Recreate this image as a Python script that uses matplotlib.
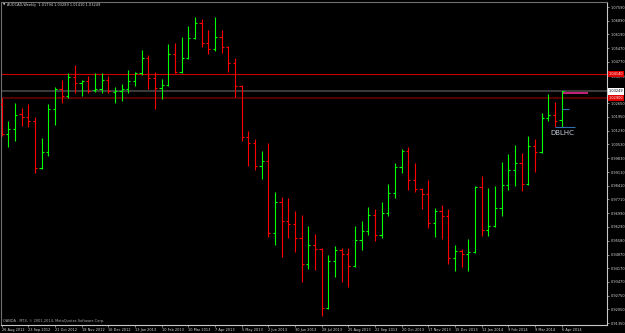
import numpy as np
import matplotlib
matplotlib.use("Agg")
import matplotlib.pyplot as plt

# weekly AUDCAD bars, 26 Aug 2012 .. 6 Apr 2014
opens = [1.02605, 1.01064, 1.01305, 1.02076, 1.01953, 1.01716, 0.99301, 1.00154, 1.02333, 1.03361,
         1.03001, 1.03993, 1.03669, 1.03787, 1.03325, 1.03376, 1.03823, 1.03238, 1.03274, 1.03361,
         1.03787, 1.04183, 1.04954, 1.03926, 1.03412, 1.03582, 1.05175, 1.04265, 1.04954, 1.05982,
         1.06753, 1.05725, 1.05416, 1.06064, 1.05519, 1.04697, 1.03530, 1.00925, 1.00586, 0.99419,
         0.99676, 0.95961, 0.97585, 0.96608, 0.96439, 0.95704, 0.94368, 0.95359, 0.95138, 0.92137,
         0.94553, 0.95102, 0.94897, 0.94280, 0.95616, 0.96079, 0.96901, 0.95873, 0.96989, 0.98016,
         0.99352, 1.00190, 0.98700, 0.98237, 0.97965, 0.96475, 0.97107, 0.96850, 0.94676, 0.95066,
         0.94897, 0.94984, 0.98355, 0.96130, 0.96351, 0.97245, 0.98443, 0.99214, 0.99589, 0.98479,
         1.00447, 1.00123, 1.01871, 1.02040, 1.01794]
highs = [1.02914, 1.01747, 1.02672, 1.02415, 1.02621, 1.01953, 1.00843, 1.02590, 1.03464, 1.03839,
         1.04183, 1.04610, 1.03839, 1.04044, 1.04183, 1.04183, 1.04044, 1.03464, 1.03633, 1.04353,
         1.04265, 1.05380, 1.05124, 1.04265, 1.03890, 1.05689, 1.05725, 1.06033, 1.06614, 1.07092,
         1.06974, 1.06408, 1.07092, 1.06408, 1.05586, 1.04954, 1.03582, 1.01233, 1.00791, 1.00205,
         1.00586, 0.98099, 0.97811, 0.97790, 0.97107, 0.96901, 0.96351, 0.95909, 0.95190, 0.94846,
         0.95308, 0.95221, 0.95221, 0.96351, 0.96608, 0.97328, 0.97209, 0.97554, 0.98494, 0.99558,
         1.00293, 1.00380, 0.99589, 0.98273, 0.98700, 0.97245, 0.97415, 0.97194, 0.95359, 0.95138,
         0.95668, 0.98407, 0.98905, 0.98304, 0.98391, 0.99609, 1.00036, 1.00498, 1.00103, 1.00976,
         1.00791, 1.02158, 1.03104, 1.02724, 1.03289]
lows = [1.00961, 1.00411, 1.00719, 1.01490, 1.01439, 0.99075, 0.99265, 0.99933, 1.01511, 1.02672,
        1.02929, 1.03155, 1.03032, 1.03155, 1.03207, 1.03186, 1.03155, 1.02641, 1.02775, 1.03186,
        1.03530, 1.04096, 1.03361, 1.02333, 1.02862, 1.03530, 1.04183, 1.04183, 1.04903, 1.05930,
        1.05550, 1.05160, 1.05345, 1.05242, 1.04265, 1.02981, 1.00704, 0.99435, 0.99214, 0.98751,
        0.95786, 0.95359, 0.94758, 0.95734, 0.95015, 0.93443, 0.94126, 0.94075, 0.91711, 0.92070,
        0.93699, 0.93443, 0.93217, 0.94244, 0.95102, 0.95873, 0.95565, 0.95734, 0.96865, 0.97790,
        0.99075, 0.98186, 0.98068, 0.97209, 0.96218, 0.95786, 0.95652, 0.94368, 0.94039, 0.94244,
        0.94039, 0.94964, 0.95837, 0.95837, 0.96269, 0.96865, 0.98186, 0.98407, 0.98135, 0.98443,
        0.99096, 1.00087, 1.01747, 1.01439, 1.01410]
closes = [1.01064, 1.01305, 1.02025, 1.01953, 1.01716, 0.99301, 1.00123, 1.02333, 1.03361, 1.03001,
          1.03993, 1.03669, 1.03787, 1.03274, 1.03376, 1.03823, 1.03274, 1.03274, 1.03361, 1.03787,
          1.04183, 1.04954, 1.03926, 1.03412, 1.03582, 1.05175, 1.04265, 1.04954, 1.05982, 1.06753,
          1.05725, 1.05416, 1.06064, 1.05519, 1.04697, 1.03530, 1.00925, 1.00586, 0.99419, 0.99676,
          0.95961, 0.97585, 0.96608, 0.96439, 0.95704, 0.94368, 0.95359, 0.95138, 0.92137, 0.94553,
          0.95102, 0.94897, 0.94280, 0.95616, 0.96079, 0.96901, 0.95873, 0.96989, 0.98016, 0.99352,
          1.00190, 0.98700, 0.98237, 0.97965, 0.96475, 0.97107, 0.96850, 0.94676, 0.95066, 0.94897,
          0.94984, 0.98355, 0.96130, 0.96351, 0.97245, 0.98443, 0.99214, 0.99589, 0.98479, 1.00447,
          1.00123, 1.01871, 1.02040, 1.01732, 1.03249]

date_labels = ["26 Aug 2012", "23 Sep 2012", "21 Oct 2012", "18 Nov 2012", "16 Dec 2012",
               "13 Jan 2013", "10 Feb 2013", "10 Mar 2013", "7 Apr 2013", "5 May 2013",
               "2 Jun 2013", "30 Jun 2013", "28 Jul 2013", "25 Aug 2013", "22 Sep 2013",
               "20 Oct 2013", "17 Nov 2013", "15 Dec 2013", "12 Jan 2014", "9 Feb 2014",
               "9 Mar 2014", "6 Apr 2014"]
# 1.03350 sits under the bid box in the reference, so it is left out
price_ticks = [0.91350, 0.92050, 0.92750, 0.93470, 0.94170, 0.94870, 0.95580, 0.96290,
               0.96990, 0.97710, 0.98410, 0.99110, 0.99830, 1.00530, 1.01230, 1.01950,
               1.02650, 1.04070, 1.04770, 1.05470, 1.06190, 1.06890, 1.07590]

resist = 1.04140
bid = 1.03249
support = 1.02900

UP = "#00FF00"
DOWN = "#FF0000"
FG = "#D8D8D8"
FS = 2.5

fig = plt.figure(figsize=(6.25, 3.33), dpi=100, facecolor="black")
ax = fig.add_axes([0.5 / 625, 8 / 333, 606.5 / 625, 323 / 333])
ax.set_facecolor("black")

# level lines
ax.axhline(resist, color="#C80000", lw=0.8, zorder=1)
ax.axhline(bid, color="#3C3C3C", lw=1.4, zorder=1)
ax.axhline(support, color="#560000", lw=1.4, zorder=1)

o = np.array(opens)
h = np.array(highs)
l = np.array(lows)
c = np.array(closes)
idx = np.arange(len(o))
cols = [UP if cc >= oo else DOWN for oo, cc in zip(o, c)]

ax.vlines(idx, l, h, colors=cols, lw=0.8, zorder=3)
ax.hlines(o, idx - 0.32, idx, colors=cols, lw=0.8, zorder=3)
ax.hlines(c, idx, idx + 0.32, colors=cols, lw=0.8, zorder=3)

# objects around the last bar
last = idx[-1]
ax.hlines(1.0318, last + 0.15, last + 4.0, color="#E8288C", lw=1.2, zorder=4)
ax.hlines(1.0235, last, last + 1.05, color="#2F6FAF", lw=0.8, zorder=4)
ax.hlines(1.0142, last - 1.05, last + 1.95, color="#2F6FAF", lw=0.8, zorder=4)
ax.text(last + 0.05, 1.0111, "DBLHC", color="#C4CCDC", fontsize=5, ha="center", va="center", zorder=5)

ax.set_xlim(-0.15, 90.82)
ax.set_ylim(0.91248, 1.07847)

ax.yaxis.tick_right()
ax.set_yticks(price_ticks)
ax.set_yticklabels([f"{v:.5f}" for v in price_ticks])
ax.set_xticks(idx[::4])
ax.set_xticklabels(date_labels)
ax.tick_params(axis="y", colors="#C0C0C0", labelcolor=FG, labelsize=FS, length=1.5, width=0.5, pad=1)
ax.tick_params(axis="x", colors="#C0C0C0", labelcolor=FG, labelsize=FS, length=1.5, width=0.5, pad=0.8)
for t in ax.get_xticklabels():
    t.set_ha("left")
for t in ax.get_yticklabels():
    if t.get_text() == "1.04070":
        t.set_va("top")

for s in ["left", "top"]:
    ax.spines[s].set_color("#707070")
for s in ["right", "bottom"]:
    ax.spines[s].set_color("#C8C8C8")
for s in ax.spines.values():
    s.set_linewidth(0.8)

# price boxes on the right scale
tr = ax.get_yaxis_transform()
box_items = [(resist, "#E00000", "white"), (bid, "white", "black"), (support, "#E00000", "white")]
for val, bg, fg in box_items:
    ax.text(1.003, val, f"{val:.5f}", transform=tr, fontsize=FS, color=fg, ha="left", va="center",
            clip_on=False, zorder=6,
            bbox=dict(boxstyle="square,pad=0.3", facecolor=bg, edgecolor="none"))

fig.text(3 / 625, 1 - 5 / 333, "\u25bc", color=FG, fontsize=2.2, va="center", ha="left")
fig.text(7 / 625, 1 - 5 / 333, "AUDCAD,Weekly  1.01794 1.03289 1.01410 1.03249",
         color=FG, fontsize=FS, va="center", ha="left")
fig.text(3 / 625, 1 - 321 / 333, "OANDA - MT4, \u00a9 2001-2014, MetaQuotes Software Corp.",
         color="#B0B0B0", fontsize=FS, va="center", ha="left")

fig.savefig("out.png", dpi=100, facecolor="black")
